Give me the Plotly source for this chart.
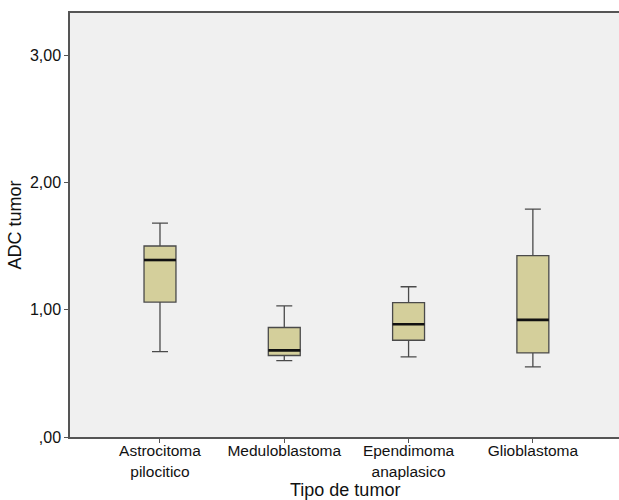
import plotly.graph_objects as go

categories = ["Astrocitoma<br>pilocitico", "Meduloblastoma", "Ependimoma<br>anaplasico", "Glioblastoma"]
lower_whisker = [0.67, 0.60, 0.63, 0.55]
q1_values = [1.06, 0.64, 0.76, 0.66]
medians = [1.39, 0.68, 0.885, 0.92]
q3_values = [1.50, 0.86, 1.055, 1.425]
upper_whisker = [1.68, 1.03, 1.18, 1.79]
y_tick_vals = [0, 1, 2, 3]
y_tick_text = [",00", "1,00", "2,00", "3,00"]
x_title = "Tipo de tumor"
y_title = "ADC tumor"

positions = list(range(len(categories)))
box_width = 0.257

fig = go.Figure()
fig.add_trace(go.Box(
    x=positions,
    q1=q1_values, median=medians, q3=q3_values,
    lowerfence=lower_whisker, upperfence=upper_whisker,
    width=box_width,
    whiskerwidth=0.5,
    fillcolor="#d4cf9b",
    line=dict(color="#4a4a4a", width=1.3),
    boxpoints=False,
    showlegend=False,
    hoverinfo="skip",
))

# thicker median lines
mx, my = [], []
for p, m in zip(positions, medians):
    mx += [p - box_width / 2, p + box_width / 2, None]
    my += [m, m, None]
fig.add_trace(go.Scatter(x=mx, y=my, mode="lines",
                         line=dict(color="#111111", width=2.6),
                         showlegend=False, hoverinfo="skip"))

font_family = "Liberation Sans, Arial, sans-serif"
fig.update_layout(
    width=619, height=500,
    margin=dict(l=70, r=0, t=13, b=63, autoexpand=False),
    paper_bgcolor="white",
    plot_bgcolor="#f0f0f0",
    font=dict(family=font_family, size=16, color="#111111"),
    xaxis=dict(
        range=[-0.724, 3.693],
        tickmode="array", tickvals=positions, ticktext=categories,
        showgrid=False, zeroline=False,
        showline=True, linecolor="#555555", linewidth=1.5, mirror=True,
        ticks="outside", ticklen=4, tickcolor="#555555",
        tickfont=dict(size=15.5),
        ticklabelstandoff=-5,
    ),
    yaxis=dict(
        range=[0, 3.33],
        tickmode="array", tickvals=y_tick_vals, ticktext=y_tick_text,
        showgrid=False, zeroline=False,
        showline=True, linecolor="#555555", linewidth=1.5,
        ticks="outside", ticklen=4, tickcolor="#555555",
        tickfont=dict(size=16),
        title=dict(text=y_title, font=dict(size=18), standoff=4),
    ),
    annotations=[dict(
        text=x_title, xref="paper", yref="paper", x=0.5, y=-63 / 424,
        xanchor="center", yanchor="bottom", showarrow=False, yshift=-2,
        font=dict(size=18),
    )],
)

fig.write_html("out.html", config={"displayModeBar": False},
               post_script="document.body.style.margin='0';document.body.style.overflow='hidden';")
